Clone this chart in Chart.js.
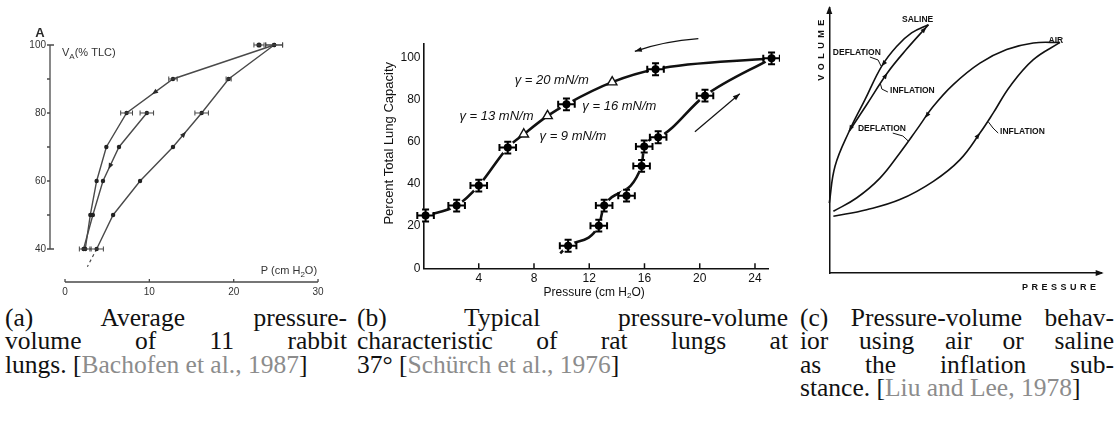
<!DOCTYPE html>
<html>
<head>
<meta charset="utf-8">
<script src="https://cdn.jsdelivr.net/npm/chart.js@4.4.1/dist/chart.umd.min.js"></script>
<style>
  body { margin: 0; background: #fff; width: 1118px; height: 429px; overflow: hidden; position: relative; }
  canvas { position: absolute; top: 0; }
  #chartA { left: 0; }
  #chartB { left: 360px; }
  #chartC { left: 800px; }
  .cap { position: absolute; top: 306px; font-family: 'Liberation Serif', 'Times New Roman', serif; font-size: 25.5px; line-height: 23.4px; color: #111; }
  .cap div { white-space: nowrap; text-align: justify; text-align-last: justify; }
  .cap div.last { text-align-last: left; }
  .cite { color: #8c8c8c; }
  #capA { left: 5px; width: 342px; }
  #capB { left: 357px; width: 431px; }
  #capC { left: 800px; width: 314px; }
</style>
</head>
<body>
<canvas id="chartA" width="345" height="300"></canvas>
<canvas id="chartB" width="420" height="300"></canvas>
<canvas id="chartC" width="318" height="300"></canvas>

<div class="cap" id="capA">
  <div>(a) Average pressure-</div>
  <div>volume of 11 rabbit</div>
  <div class="last">lungs. [<span class="cite">Bachofen et al., 1987</span>]</div>
</div>
<div class="cap" id="capB">
  <div>(b) Typical pressure-volume</div>
  <div>characteristic of rat lungs at</div>
  <div class="last">37° [<span class="cite">Schürch et al., 1976</span>]</div>
</div>
<div class="cap" id="capC">
  <div>(c) Pressure-volume behav-</div>
  <div>ior using air or saline</div>
  <div>as the inflation sub-</div>
  <div class="last">stance. [<span class="cite">Liu and Lee, 1978</span>]</div>
</div>

<script>
// (a) rabbit lungs: pressure (cm H2O) vs volume (% TLC)
const aDeflP = [24.8, 12.8, 7.3, 4.9, 3.75, 3.0, 2.4];
const aDeflV = [100, 90, 80, 70, 60, 50, 40];
const aDeflErr = [1.0, 0.5, 0.7, 0, 0, 0, 0.7];
const aPartP = [9.7, 6.4, 4.5, 3.3, 2.2];
const aPartV = [80, 70, 60, 50, 40];
const aPartErr = [0.8, 0, 0, 0, 0];
const aInflP = [3.75, 5.7, 8.9, 12.8, 16.2, 19.4, 24.8];
const aInflV = [40, 50, 60, 70, 80, 90, 100];
const aInflErr = [0.8, 0, 0, 0, 0.8, 0.3, 1.0];
const aExtraP = [23.0];
const aExtraV = [100];
const aExtraErr = [0.6];
const aExtrapP = [3.75, 2.65];
const aExtrapV = [40, 34.8];
const aTicksX = [0, 10, 20, 30];
const aTicksY = [40, 50, 60, 70, 80, 90, 100];
const aLabelsY = [40, 60, 80, 100];

// (b) rat lungs at 37°
const bDeflP = [0.15, 2.4, 4.0, 6.1, 10.35, 16.8, 25.2];
const bDeflV = [25.0, 29.7, 39.2, 57.2, 77.7, 94.3, 99.5];
const bGammaP = [7.26, 8.98, 13.66];
const bGammaV = [63.5, 72.2, 88.2];
const bInflP = [10.47, 12.69, 13.08, 14.7, 15.79, 15.98, 16.99, 20.38];
const bInflV = [10.7, 20.2, 29.7, 34.4, 48.5, 57.7, 62.1, 81.8];
const bInflLineP = [9.9, 10.47, 12.69, 13.08, 15.79, 15.98, 16.99, 20.38, 25.2];
const bInflLineV = [7.1, 10.7, 20.2, 29.7, 48.5, 57.7, 62.1, 81.8, 99.5];
const bErrP = 0.6;
const bErrV = 2.8;
const bTicksX = [4, 8, 12, 16, 20, 24];
const bTicksY = [0, 20, 40, 60, 80, 100];
const bNotes = [
  ['γ = 20 mN/m', 6.6, 88.9],
  ['γ = 16 mN/m', 11.5, 76.5],
  ['γ = 13 mN/m', 2.6, 71.8],
  ['γ = 9 mN/m', 8.4, 62.3]
];

// (c) air vs saline loops, arbitrary units
const cSalDefP = [0, 2.1, 7.3, 13.1, 19.2, 24.7, 30.2, 36.4];
const cSalDefV = [26.4, 40.3, 53.5, 65.4, 78.0, 85.5, 90.6, 93.7];
const cSalInfP = [7.3, 13.7, 21.3, 28.4, 36.4];
const cSalInfV = [53.5, 63.5, 75.5, 84.5, 93.7];
const cAirDefP = [1.5, 10.0, 18.6, 25.9, 32.1, 38.2, 45.5, 55.3, 65.1, 74.9, 84.7];
const cAirDefV = [23.3, 28.3, 35.8, 45.3, 54.1, 62.9, 71.1, 79.2, 84.3, 86.8, 87.0];
const cAirInfP = [1.5, 13.7, 25.9, 38.2, 48.0, 55.3, 60.2, 66.3, 74.9, 84.7];
const cAirInfV = [21.4, 23.9, 27.7, 34.6, 42.8, 52.8, 60.4, 70.4, 80.5, 87.0];
const cNotes = [
  ['SALINE', 26.7, 95.5],
  ['AIR', 80.5, 87.5],
  ['DEFLATION', 1.3, 83.0],
  ['INFLATION', 22.3, 68.7],
  ['DEFLATION', 10.5, 54.3],
  ['INFLATION', 62.7, 53.2]
];
const cLeaders = [
  [[14.9, 81.5], [17.9, 80.4], [19.0, 78.1]],
  [[21.5, 68.3], [19.3, 69.4], [18.8, 71.3]],
  [[23.3, 52.8], [27.0, 51.7], [29.0, 49.8]],
  [[62.0, 52.8], [60.1, 54.7], [58.4, 57.0]]
];

const sans = "'Liberation Sans', Arial, sans-serif";
Chart.defaults.font.family = sans;
Chart.defaults.animation = false;
Chart.defaults.plugins.legend.display = false;
Chart.defaults.plugins.tooltip.enabled = false;

const xy = (ps, vs) => ps.map((p, i) => ({ x: p, y: vs[i] }));

function arrowHead(ctx, x1, y1, x2, y2, len, half) {
  const a = Math.atan2(y2 - y1, x2 - x1);
  const c = Math.cos(a), s = Math.sin(a);
  ctx.beginPath();
  ctx.moveTo(x2, y2);
  ctx.lineTo(x2 - len * c + half * s, y2 - len * s - half * c);
  ctx.lineTo(x2 - len * c - half * s, y2 - len * s + half * c);
  ctx.closePath();
  ctx.fill();
}

// text with subscript parts: [[text, isSub], ...]
function richText(ctx, parts, x, y, size, align) {
  const fonts = parts.map(([, sub]) => (sub ? Math.round(size * 0.7) : size) + 'px ' + sans);
  let w = 0;
  parts.forEach(([t], i) => { ctx.font = fonts[i]; w += ctx.measureText(t).width; });
  let cx = align === 'center' ? x - w / 2 : x;
  ctx.textAlign = 'left';
  ctx.textBaseline = 'middle';
  parts.forEach(([t, sub], i) => {
    ctx.font = fonts[i];
    ctx.fillText(t, cx, sub ? y + size * 0.3 : y);
    cx += ctx.measureText(t).width;
  });
}

// arrow on a drawn curve: [dataset, fromIndex, toIndex, fraction]
function curveArrows(chart, specs, len, half) {
  const ctx = chart.ctx;
  specs.forEach(([di, from, to, t]) => {
    const pts = chart.getDatasetMeta(di).data;
    const a = pts[from], b = pts[to];
    const tx = a.x + (b.x - a.x) * t, ty = a.y + (b.y - a.y) * t;
    arrowHead(ctx, a.x, a.y, tx, ty, len, half);
  });
}

const errorBars = {
  id: 'errorBars',
  afterDatasetsDraw(chart) {
    const { ctx, scales: { x, y } } = chart;
    chart.data.datasets.forEach(ds => {
      if (!ds.errX && !ds.errY) return;
      const cap = ds.errCap || 3;
      ctx.save();
      ctx.strokeStyle = ds.errColor || '#111';
      ctx.lineWidth = ds.errWidth || 1;
      ds.data.forEach((pt, i) => {
        const ex = ds.errX ? ds.errX[i] : 0;
        const ey = ds.errY ? ds.errY[i] : 0;
        const px = x.getPixelForValue(pt.x), py = y.getPixelForValue(pt.y);
        ctx.beginPath();
        if (ex) {
          const l = x.getPixelForValue(pt.x - ex), r = x.getPixelForValue(pt.x + ex);
          ctx.moveTo(l, py); ctx.lineTo(r, py);
          ctx.moveTo(l, py - cap); ctx.lineTo(l, py + cap);
          ctx.moveTo(r, py - cap); ctx.lineTo(r, py + cap);
        }
        if (ey) {
          const t = y.getPixelForValue(pt.y + ey), b = y.getPixelForValue(pt.y - ey);
          ctx.moveTo(px, t); ctx.lineTo(px, b);
          ctx.moveTo(px - cap, t); ctx.lineTo(px + cap, t);
          ctx.moveTo(px - cap, b); ctx.lineTo(px + cap, b);
        }
        ctx.stroke();
      });
      ctx.restore();
    });
  }
};

// ---------- panel (a) ----------
const greyA = '#4a4a4a';
const panelA = {
  id: 'panelA',
  afterDraw(chart) {
    const { ctx, scales: { x, y }, chartArea: ca } = chart;
    ctx.save();
    ctx.strokeStyle = greyA;
    ctx.lineWidth = 1.3;
    ctx.beginPath();
    const ax = ca.left;
    ctx.moveTo(ax + 4, y.getPixelForValue(100));
    ctx.lineTo(ax, y.getPixelForValue(100));
    ctx.lineTo(ax, y.getPixelForValue(40));
    ctx.lineTo(ax + 4, y.getPixelForValue(40));
    aTicksY.forEach(v => {
      const py = y.getPixelForValue(v);
      ctx.moveTo(ax - 3, py); ctx.lineTo(ax, py);
    });
    const ay = ca.bottom;
    ctx.moveTo(x.getPixelForValue(0), ay);
    ctx.lineTo(x.getPixelForValue(30), ay);
    aTicksX.forEach(v => {
      const px = x.getPixelForValue(v);
      ctx.moveTo(px, ay); ctx.lineTo(px, ay - 3);
    });
    ctx.stroke();

    ctx.fillStyle = '#2a2a2a';
    curveArrows(chart, [[0, 1, 2, 0.45], [1, 1, 2, 0.65], [2, 3, 4, 0.45]], 6, 2.5);

    ctx.font = 'bold 13px ' + sans;
    ctx.textAlign = 'center';
    ctx.textBaseline = 'middle';
    ctx.fillText('A', ax - 10, y.getPixelForValue(100) - 12);
    ctx.fillStyle = '#333';
    richText(ctx, [['V', false], ['A', true], ['(% TLC)', false]], ax + 12, y.getPixelForValue(100) + 8, 11, 'left');
    richText(ctx, [['P (cm H', false], ['2', true], ['O)', false]], x.getPixelForValue(23.2), ay - 11, 11, 'left');
    ctx.restore();
  }
};

const aLine = { borderColor: greyA, borderWidth: 1.4, pointRadius: 2.2, pointBackgroundColor: '#222', pointBorderWidth: 0, errColor: '#444', errCap: 2.5 };

new Chart(document.getElementById('chartA'), {
  type: 'line',
  data: {
    datasets: [
      { ...aLine, data: xy(aDeflP, aDeflV), errX: aDeflErr },
      { ...aLine, data: xy(aPartP, aPartV), errX: aPartErr },
      { ...aLine, data: xy(aInflP, aInflV), errX: aInflErr },
      { ...aLine, data: xy(aExtraP, aExtraV), errX: aExtraErr, showLine: false, pointRadius: 2.6 },
      { data: xy(aExtrapP, aExtrapV), borderColor: greyA, borderWidth: 1.2, borderDash: [3, 3], pointRadius: 0 }
    ]
  },
  options: {
    responsive: false,
    layout: { padding: { top: 41.6, right: 23, left: 0, bottom: 0 } },
    scales: {
      x: {
        type: 'linear', min: -1.78, max: 30.47,
        afterFit: s => { s.height = 18; },
        afterBuildTicks: s => { s.ticks = aTicksX.map(v => ({ value: v })); },
        grid: { display: false, drawTicks: false },
        border: { display: false },
        ticks: { autoSkip: false, maxRotation: 0, font: { size: 10 }, color: '#333', padding: 4 }
      },
      y: {
        type: 'linear', min: 30.29, max: 101,
        afterFit: s => { s.width = 50; },
        afterBuildTicks: s => { s.ticks = aTicksY.map(v => ({ value: v })); },
        grid: { display: false, drawTicks: false },
        border: { display: false },
        ticks: { autoSkip: false, font: { size: 10 }, color: '#333', padding: 4,
                 callback: v => (aLabelsY.includes(v) ? v : '') }
      }
    }
  },
  plugins: [errorBars, panelA]
});

// ---------- panel (b) ----------
const panelB = {
  id: 'panelB',
  afterDraw(chart) {
    const { ctx, scales: { x, y }, chartArea: ca } = chart;
    ctx.save();
    ctx.strokeStyle = '#111';
    ctx.lineWidth = 1.5;
    ctx.beginPath();
    bTicksX.forEach(v => {
      const px = x.getPixelForValue(v);
      ctx.moveTo(px, ca.bottom); ctx.lineTo(px, ca.bottom - 5);
    });
    ctx.stroke();

    ctx.fillStyle = '#111';
    ctx.font = 'italic 13px ' + sans;
    ctx.textAlign = 'left';
    ctx.textBaseline = 'middle';
    bNotes.forEach(([t, px, py]) => ctx.fillText(t, x.getPixelForValue(px), y.getPixelForValue(py)));

    // loop direction arrows
    ctx.lineWidth = 1.2;
    ctx.beginPath();
    const u0 = [x.getPixelForValue(19.9), y.getPixelForValue(108.8)];
    const uc = [x.getPixelForValue(17.4), y.getPixelForValue(107.6)];
    const u1 = [x.getPixelForValue(15.3), y.getPixelForValue(102.8)];
    ctx.moveTo(...u0); ctx.quadraticCurveTo(...uc, ...u1);
    ctx.stroke();
    arrowHead(ctx, uc[0], uc[1] + 2, u1[0], u1[1], 7, 2.5);
    const l0 = [x.getPixelForValue(19.65), y.getPixelForValue(64.7)];
    const l1 = [x.getPixelForValue(22.9), y.getPixelForValue(82.7)];
    ctx.beginPath(); ctx.moveTo(...l0); ctx.lineTo(...l1); ctx.stroke();
    arrowHead(ctx, ...l0, ...l1, 7, 2.5);

    richText(ctx, [['Pressure (cm H', false], ['2', true], ['O)', false]], (ca.left + ca.right) / 2 - 2, ca.bottom + 24, 12, 'center');
    ctx.translate(ca.left - 34, ca.top + 100);
    ctx.rotate(-Math.PI / 2);
    richText(ctx, [['Percent Total Lung Capacity', false]], 0, 0, 13, 'center');
    ctx.restore();
  }
};

const bMark = { showLine: false, clip: false, pointRadius: 5.5, pointBackgroundColor: '#000', pointBorderColor: '#fff', pointBorderWidth: 3, errColor: '#000', errWidth: 2, errCap: 3.5 };
const bCurve = { borderColor: '#111', borderWidth: 2.6, pointRadius: 0, clip: false, cubicInterpolationMode: 'monotone' };
const bDeflLine = xy(bDeflP, bDeflV).concat(xy(bGammaP, bGammaV)).sort((a, b) => a.x - b.x);

new Chart(document.getElementById('chartB'), {
  type: 'line',
  data: {
    datasets: [
      { ...bMark, data: xy(bDeflP, bDeflV), errX: bDeflP.map(() => bErrP), errY: bDeflV.map(() => bErrV) },
      { ...bMark, data: xy(bInflP, bInflV), errX: bInflP.map(() => bErrP), errY: bInflV.map(() => bErrV) },
      { data: xy(bGammaP, bGammaV), showLine: false, clip: false, pointStyle: 'triangle', pointRadius: 5.5, pointBackgroundColor: '#fff', pointBorderColor: '#111', pointBorderWidth: 1.4 },
      { ...bCurve, data: bDeflLine },
      { ...bCurve, data: xy(bInflLineP, bInflLineV) }
    ]
  },
  options: {
    responsive: false,
    layout: { padding: { top: 43.3, right: 11.2, left: 0, bottom: 0 } },
    scales: {
      x: {
        type: 'linear', min: 0, max: 25,
        afterFit: s => { s.height = 31.7; },
        afterBuildTicks: s => { s.ticks = bTicksX.map(v => ({ value: v })); },
        grid: { display: false, drawTicks: false },
        border: { color: '#111', width: 1.6 },
        ticks: { autoSkip: false, maxRotation: 0, font: { size: 12 }, color: '#111', padding: 3 }
      },
      y: {
        type: 'linear', min: 0, max: 106.6,
        afterFit: s => { s.width = 63.5; },
        afterBuildTicks: s => { s.ticks = bTicksY.map(v => ({ value: v })); },
        grid: { display: false, drawTicks: false },
        border: { color: '#111', width: 1.6 },
        ticks: { autoSkip: false, font: { size: 12 }, color: '#111', padding: 3 }
      }
    }
  },
  plugins: [errorBars, panelB]
});

// ---------- panel (c) ----------
const panelC = {
  id: 'panelC',
  afterDraw(chart) {
    const { ctx, scales: { x, y }, chartArea: ca } = chart;
    ctx.save();
    ctx.fillStyle = '#111';
    arrowHead(ctx, ca.left, ca.top + 10, ca.left, ca.top - 2, 8, 3);
    arrowHead(ctx, ca.right - 10, ca.bottom, ca.right + 2, ca.bottom, 8, 3);
    curveArrows(chart, [[0, 5, 4, 1], [0, 3, 2, 1], [1, 1, 2, 1], [1, 3, 4, 0.9], [2, 5, 4, 0.5], [3, 4, 5, 1]], 6, 2.3);

    ctx.strokeStyle = '#111';
    ctx.lineWidth = 1;
    cLeaders.forEach(line => {
      ctx.beginPath();
      line.forEach(([px, py], i) => {
        const X = x.getPixelForValue(px), Y = y.getPixelForValue(py);
        if (i) ctx.lineTo(X, Y); else ctx.moveTo(X, Y);
      });
      ctx.stroke();
    });

    ctx.font = 'bold 8.5px ' + sans;
    ctx.textAlign = 'left';
    ctx.textBaseline = 'middle';
    cNotes.forEach(([t, px, py]) => ctx.fillText(t, x.getPixelForValue(px), y.getPixelForValue(py)));

    ctx.font = 'bold 9px ' + sans;
    ctx.letterSpacing = '3.5px';
    ctx.textAlign = 'center';
    ctx.fillText('PRESSURE', ca.right - 41, ca.bottom + 15);
    ctx.letterSpacing = '4.5px';
    ctx.translate(ca.left - 7.6, ca.top + 40);
    ctx.rotate(-Math.PI / 2);
    ctx.fillText('VOLUME', 0, 0);
    ctx.restore();
  }
};

const cCurve = { borderColor: '#111', borderWidth: 1.6, pointRadius: 0, tension: 0.4, clip: false };

new Chart(document.getElementById('chartC'), {
  type: 'line',
  data: {
    datasets: [
      { ...cCurve, data: xy(cSalDefP, cSalDefV) },
      { ...cCurve, data: xy(cSalInfP, cSalInfV) },
      { ...cCurve, data: xy(cAirDefP, cAirDefV) },
      { ...cCurve, data: xy(cAirInfP, cAirInfV) }
    ]
  },
  options: {
    responsive: false,
    layout: { padding: { top: 8, right: 16.3, left: 0, bottom: 0 } },
    scales: {
      x: {
        type: 'linear', min: 0, max: 100,
        afterFit: s => { s.height = 27; },
        grid: { display: false, drawTicks: false },
        border: { color: '#111', width: 1.5 },
        ticks: { display: false }
      },
      y: {
        type: 'linear', min: 0, max: 100,
        afterFit: s => { s.width = 29.3; },
        grid: { display: false, drawTicks: false },
        border: { color: '#111', width: 1.5 },
        ticks: { display: false }
      }
    }
  },
  plugins: [panelC]
});
</script>
</body>
</html>
